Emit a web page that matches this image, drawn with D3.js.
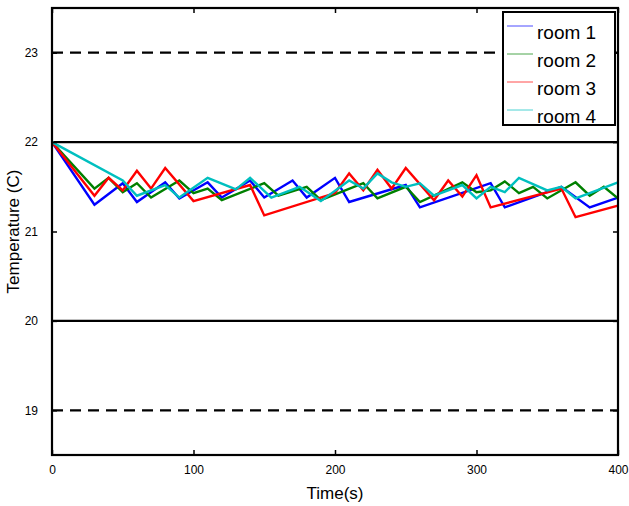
<!DOCTYPE html>
<html>
<head>
<meta charset="utf-8">
<script src="https://cdn.jsdelivr.net/npm/d3@7"></script>
<style>
  body { margin: 0; background: #fff; }
  text { font-family: "Liberation Sans", Arial, sans-serif; }
</style>
</head>
<body>
<svg id="chart" width="629" height="506"></svg>
<script>
// data: [time (s), temperature (C)]
var room1 = [[0,22],[30,21.3],[50,21.54],[60,21.33],[80,21.55],[90,21.37],[110,21.55],[120,21.38],[140,21.57],[150,21.38],[170,21.57],[180,21.38],[200,21.6],[210,21.33],[250,21.52],[260,21.27],[310,21.54],[320,21.27],[360,21.5],[380,21.27],[400,21.38]];
var room2 = [[0,22],[30,21.48],[40,21.6],[50,21.44],[60,21.54],[70,21.38],[90,21.57],[100,21.43],[110,21.48],[120,21.35],[150,21.54],[160,21.4],[180,21.5],[190,21.35],[220,21.54],[230,21.37],[250,21.5],[260,21.33],[290,21.55],[300,21.44],[310,21.46],[320,21.56],[330,21.43],[340,21.5],[350,21.37],[370,21.55],[380,21.4],[390,21.5],[400,21.37]];
var room3 = [[0,22],[30,21.4],[40,21.6],[50,21.46],[60,21.68],[70,21.48],[80,21.71],[100,21.34],[140,21.52],[150,21.18],[200,21.43],[210,21.65],[220,21.46],[230,21.69],[240,21.48],[250,21.71],[270,21.35],[280,21.57],[290,21.39],[300,21.63],[310,21.27],[360,21.48],[370,21.16],[400,21.29]];
var room4 = [[0,22],[50,21.57],[60,21.4],[80,21.52],[90,21.38],[110,21.6],[130,21.47],[140,21.6],[155,21.38],[175,21.5],[190,21.34],[210,21.57],[220,21.48],[230,21.65],[240,21.55],[250,21.5],[260,21.54],[270,21.4],[290,21.52],[300,21.37],[310,21.5],[320,21.44],[330,21.6],[350,21.46],[360,21.5],[370,21.37],[380,21.43],[400,21.55]];

var seriesNames = ["room 1","room 2","room 3","room 4"];
var seriesColors = ["#0000ff","#008000","#ff0000","#00bfbf"];
var xTicks = [0,100,200,300,400];
var yTicks = [19,20,21,22,23];
var solidLimits = [20,22];
var dashedLimits = [19,23];

var svg = d3.select("#chart");
var pLeft = 52, pRight = 618, pTop = 8, pBottom = 455;

var x = d3.scaleLinear().domain([0,400]).range([pLeft,pRight]);
var y = d3.scaleLinear().domain([18.5,23.5]).range([pBottom,pTop]);

// limit lines
solidLimits.forEach(function(v){
  svg.append("line").attr("x1",pLeft).attr("x2",pRight).attr("y1",y(v)).attr("y2",y(v))
    .attr("stroke","#000").attr("stroke-width",2.2);
});
dashedLimits.forEach(function(v){
  svg.append("line").attr("x1",pLeft).attr("x2",pRight).attr("y1",y(v)).attr("y2",y(v))
    .attr("stroke","#000").attr("stroke-width",2.2).attr("stroke-dasharray","11,7");
});

// series
var line = d3.line().x(function(d){return x(d[0])}).y(function(d){return y(d[1])});
[room1,room2,room3,room4].forEach(function(s,i){
  svg.append("path").datum(s).attr("d",line)
    .attr("fill","none").attr("stroke",seriesColors[i]).attr("stroke-width",2.4)
    .attr("stroke-linejoin","miter");
});

// axes with mirrored ticks
var ax = svg.append("g").attr("transform","translate(0,"+pBottom+")")
  .call(d3.axisBottom(x).tickValues(xTicks).tickSizeInner(-5).tickSizeOuter(0).tickPadding(10));
var axTop = svg.append("g").attr("transform","translate(0,"+pTop+")")
  .call(d3.axisTop(x).tickValues(xTicks).tickSizeInner(-5).tickSizeOuter(0).tickFormat(""));
var ay = svg.append("g").attr("transform","translate("+pLeft+",0)")
  .call(d3.axisLeft(y).tickValues(yTicks).tickFormat(d3.format("d")).tickSizeInner(-5).tickSizeOuter(0).tickPadding(14));
var ayR = svg.append("g").attr("transform","translate("+pRight+",0)")
  .call(d3.axisRight(y).tickValues(yTicks).tickSizeInner(-5).tickSizeOuter(0).tickFormat(""));
[ax,axTop,ay,ayR].forEach(function(g){
  g.select(".domain").remove();
  g.selectAll(".tick line").attr("stroke","#000").attr("stroke-width",1.5);
  g.selectAll("text").attr("font-size",12).attr("fill","#000")
    .style("font-family","'Liberation Sans', Arial, sans-serif");
});

// frame
svg.append("rect").attr("x",pLeft).attr("y",pTop).attr("width",pRight-pLeft).attr("height",pBottom-pTop)
  .attr("fill","none").attr("stroke","#000").attr("stroke-width",2.2);

// axis labels
svg.append("text").attr("x",(pLeft+pRight)/2).attr("y",499).attr("text-anchor","middle")
  .attr("font-size",17).text("Time(s)");
svg.append("text").attr("transform","translate(19,"+((pTop+pBottom)/2)+") rotate(-90)")
  .attr("text-anchor","middle").attr("font-size",17).text("Temperature (C)");

// legend
var lg = svg.append("g");
lg.append("rect").attr("x",503).attr("y",12).attr("width",112).attr("height",113)
  .attr("fill","#fff").attr("stroke","#000").attr("stroke-width",2);
seriesNames.forEach(function(n,i){
  var yy = 26 + i*28;
  lg.append("line").attr("x1",507).attr("x2",533).attr("y1",yy).attr("y2",yy)
    .attr("stroke",seriesColors[i]).attr("stroke-width",1).attr("stroke-opacity",0.7);
  lg.append("text").attr("x",537).attr("y",yy+13).attr("font-size",19).text(n);
});
</script>
</body>
</html>
